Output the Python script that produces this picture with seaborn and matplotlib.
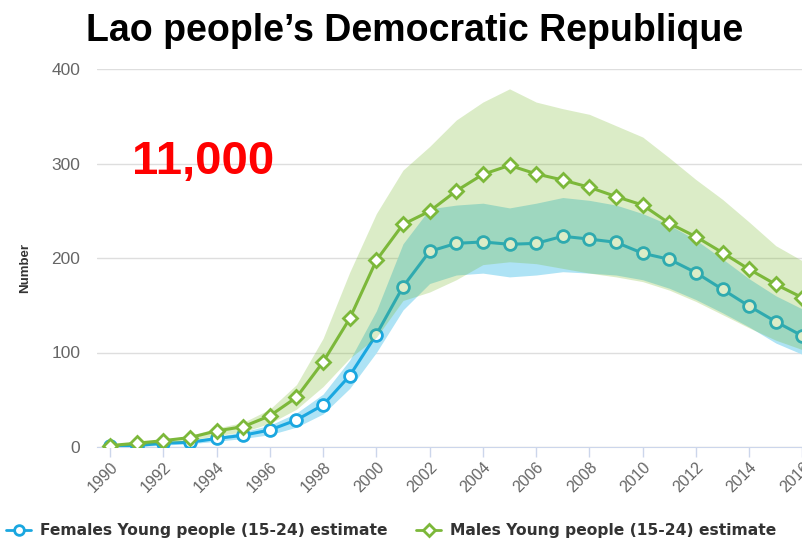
import matplotlib
matplotlib.use("Agg")
import matplotlib.pyplot as plt
from matplotlib.lines import Line2D
import seaborn as sns

# values
years = list(range(1990, 2017))

females = [1, 1.5, 4, 5, 9, 12.4, 18, 28.6, 44.4, 75.5, 119, 169.6, 207, 215.5,
           217, 214.5, 215.5, 223, 220, 216.6, 205, 198.6, 184.5, 166.8, 149,
           132.6, 117.5]
females_lo = [0, 0.5, 2, 3.5, 6, 9, 13, 21, 35, 62, 100, 145, 173, 182, 184,
              180, 182, 185.5, 184, 182, 177, 168, 156, 142, 127, 110, 98]
females_hi = [1.5, 2.5, 5, 7, 11, 16, 23, 36, 56, 92, 144, 215, 252, 256, 258,
              253, 258, 264, 261, 256, 247, 235, 219, 199, 178, 160, 146]

males = [1.5, 4, 6.7, 10, 17, 21.5, 33, 52.5, 90, 136, 197.5, 235.6, 249.5,
         271, 288.5, 298, 289, 282.5, 274.8, 265, 256, 236.7, 222.5, 205.6, 188,
         172, 158]
males_lo = [0.5, 2, 4, 7, 12, 16, 25, 40, 64, 94, 116, 155, 164, 177, 193, 196,
            194, 189, 184, 180, 175, 166, 154, 140, 126, 113, 103]
males_hi = [2, 5, 8, 12, 20, 26, 40, 66, 115, 185, 247, 293, 318, 346, 365,
            379, 365, 358, 352, 340, 328, 306, 283, 262, 238, 213, 197]

x_ticks = list(range(1990, 2017, 2))
y_ticks = [0, 100, 200, 300, 400]

title = "Lao people\u2019s Democratic Republique"
big_number = "11,000"
fem_label = "Females Young people (15-24) estimate"
male_label = "Males Young people (15-24) estimate"

blue = "#1aa7e0"
blue_band = "#aee3f5"
green = "#7cb83a"
green_band = "#71b620"

sns.set_style("white")
plt.rcParams["font.family"] = ["Liberation Sans", "DejaVu Sans"]

fig = plt.figure(figsize=(8.03, 5.40), dpi=100)
ax = fig.add_axes([97 / 803, 1 - 447 / 540, 1 - 97 / 803, (447 - 69) / 540])

ax.fill_between(years, females_lo, females_hi, color=blue_band, lw=0, zorder=1)
sns.lineplot(x=years, y=females, ax=ax, color=blue, lw=2.2, marker="o", ms=8.5,
             mfc="white", mec=blue, mew=2, zorder=2)
ax.fill_between(years, males_lo, males_hi, color=green_band, alpha=0.25, lw=0,
                zorder=3)
sns.lineplot(x=years, y=males, ax=ax, color=green, lw=2.2, marker="D", ms=7,
             mfc="white", mec=green, mew=2, zorder=4)

ax.set_xlim(1989.51, 2016.02)
ax.set_ylim(0, 400)
ax.set_yticks(y_ticks)
ax.set_xticks(x_ticks)
ax.set_xticklabels([str(y) for y in x_ticks], rotation=45, ha="right",
                   rotation_mode="anchor")
ax.yaxis.grid(True, color="#dedede", lw=1)
ax.set_axisbelow(True)
for s in ["top", "right", "left"]:
    ax.spines[s].set_visible(False)
ax.spines["bottom"].set_color("#ccd6eb")
ax.spines["bottom"].set_zorder(0)
ax.tick_params(axis="y", length=0, pad=12, labelsize=12.5, labelcolor="#666666")
ax.tick_params(axis="x", length=7, width=1, color="#ccd6eb", pad=2,
               labelsize=11.5, labelcolor="#666666", bottom=True)
ax.set_xlabel("")
ax.set_ylabel("")

fig.text(25 / 803, 1 - 268 / 540, "Number", rotation=90, ha="center",
         va="center", fontsize=9.5, fontweight="bold", color="#333333")
fig.text(415 / 803, 1 - 31 / 540, title, ha="center", va="center",
         fontsize=27, fontweight="bold", color="black")
fig.text(203 / 803, 1 - 162 / 540, big_number, ha="center", va="center",
         fontsize=34, fontweight="bold", color="#ff0000")

h_f = Line2D([], [], color=blue, lw=2, marker="o", ms=7, mfc="white", mec=blue, mew=2)
h_m = Line2D([], [], color=green, lw=2, marker="D", ms=6, mfc="white", mec=green, mew=2)
for h, lab, xpos in [(h_f, fem_label, 0.0), (h_m, male_label, 410 / 803)]:
    fig.legend([h], [lab], loc="center left", bbox_to_anchor=(xpos, 1 - 531 / 540),
               frameon=False, handlelength=1.6, handletextpad=0.6, borderaxespad=0,
               prop={"family": "DejaVu Sans", "weight": "bold", "size": 11.2},
               labelcolor="#333333")

fig.savefig("out.png", dpi=100)
